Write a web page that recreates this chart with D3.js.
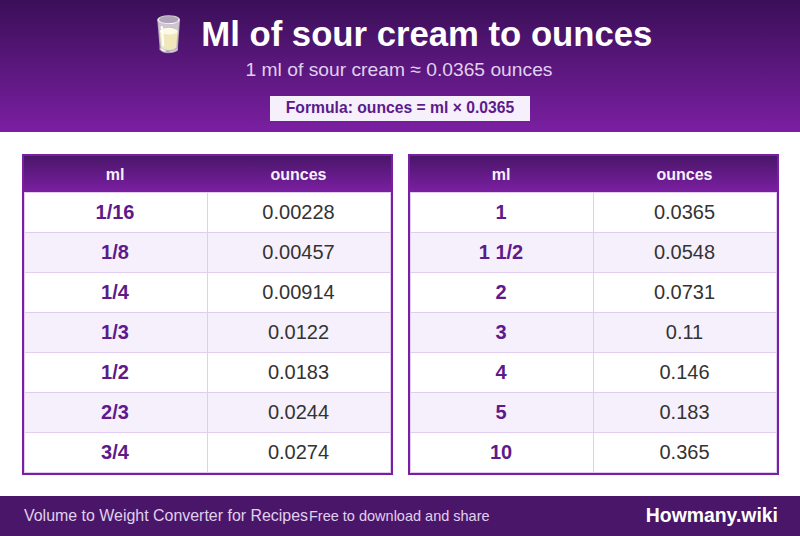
<!DOCTYPE html>
<html>
<head>
<meta charset="utf-8">
<title>Ml of sour cream to ounces</title>
<script src="https://cdn.jsdelivr.net/npm/d3@7"></script>
<style>
  html, body { margin: 0; padding: 0; background: #fff; }
  svg { display: block; font-family: "Liberation Sans", Arial, sans-serif; }
</style>
</head>
<body>
<div id="chart"></div>
<script>
const columns = ["ml", "ounces"];
const leftMl = ["1/16", "1/8", "1/4", "1/3", "1/2", "2/3", "3/4"];
const leftOunces = ["0.00228", "0.00457", "0.00914", "0.0122", "0.0183", "0.0244", "0.0274"];
const rightMl = ["1", "1 1/2", "2", "3", "4", "5", "10"];
const rightOunces = ["0.0365", "0.0548", "0.0731", "0.11", "0.146", "0.183", "0.365"];

const width = 800;
const height = 536;
const lineColor = "#e1cdf0";
const paleText = "#e0d0ee";
const purpleText = "#5e1a8b";

const svg = d3
  .select("#chart")
  .append("svg")
  .attr("width", width)
  .attr("height", height);

const defs = svg.append("defs");

const addGradient = (id, from, to) => {
  const g = defs
    .append("linearGradient")
    .attr("id", id)
    .attr("x1", "0%")
    .attr("y1", "0%")
    .attr("x2", "0%")
    .attr("y2", "100%");
  g.append("stop").attr("offset", "0%").attr("stop-color", from);
  g.append("stop").attr("offset", "100%").attr("stop-color", to);
};
addGradient("headerGradient", "#3a0f58", "#7b1fa2");
addGradient("tableGradient", "#4a1669", "#7b1fa2");

// Top banner
svg.append("rect").attr("width", width).attr("height", 132).attr("fill", "url(#headerGradient)");

const title = svg
  .append("text")
  .attr("x", 399.5)
  .attr("y", 46)
  .attr("text-anchor", "middle")
  .attr("font-size", 34.7)
  .attr("font-weight", "bold")
  .attr("fill", "#fff");
title.append("tspan").text("🥛");
title.append("tspan").attr("dx", 2).text(" Ml of sour cream to ounces");

svg
  .append("text")
  .attr("x", 399)
  .attr("y", 76)
  .attr("text-anchor", "middle")
  .attr("font-size", 19.25)
  .attr("fill", paleText)
  .text("1 ml of sour cream ≈ 0.0365 ounces");

svg.append("rect").attr("x", 270).attr("y", 96).attr("width", 260).attr("height", 25).attr("fill", "#f5f0fb");

svg
  .append("text")
  .attr("x", 400)
  .attr("y", 113)
  .attr("text-anchor", "middle")
  .attr("font-size", 15.7)
  .attr("font-weight", "bold")
  .attr("fill", purpleText)
  .text("Formula: ounces = ml × 0.0365");

// One conversion table
const drawTable = (x0, mlValues, ounceValues) => {
  const g = svg.append("g");
  const xScale = d3.scaleBand().domain(columns).range([x0, x0 + 367]);
  const yScale = d3.scaleBand().domain(d3.range(mlValues.length)).range([192, 472]);
  const colMiddle = (d) => xScale(d) + xScale.bandwidth() / 2 - 0.75;

  g.append("rect")
    .attr("x", x0)
    .attr("y", 156)
    .attr("width", 367)
    .attr("height", 36)
    .attr("fill", "url(#tableGradient)");

  g.selectAll(".head")
    .data(columns)
    .enter()
    .append("text")
    .attr("x", colMiddle)
    .attr("y", 180)
    .attr("text-anchor", "middle")
    .attr("font-size", 16)
    .attr("font-weight", "bold")
    .attr("fill", "#f5f0fb")
    .text((d) => d);

  const rows = g
    .selectAll(".row")
    .data(mlValues)
    .enter()
    .append("g")
    .attr("transform", (d, i) => "translate(0," + yScale(i) + ")");

  rows
    .append("rect")
    .attr("x", x0)
    .attr("width", 367)
    .attr("height", yScale.bandwidth())
    .attr("fill", (d, i) => (i % 2 ? "#f5f0fb" : "#fff"));

  rows
    .append("rect")
    .attr("x", x0)
    .attr("width", 367)
    .attr("height", 1)
    .attr("fill", lineColor);

  rows
    .append("rect")
    .attr("x", Math.floor(xScale("ounces")))
    .attr("width", 1)
    .attr("height", yScale.bandwidth())
    .attr("fill", lineColor);

  rows
    .append("text")
    .attr("x", colMiddle("ml"))
    .attr("y", 27)
    .attr("text-anchor", "middle")
    .attr("font-size", 20)
    .attr("font-weight", "bold")
    .attr("fill", purpleText)
    .text((d) => d);

  rows
    .append("text")
    .attr("x", colMiddle("ounces"))
    .attr("y", 27)
    .attr("text-anchor", "middle")
    .attr("font-size", 20)
    .attr("fill", "#333")
    .text((d, i) => ounceValues[i]);

  // light inner edge round the cells
  g.append("rect")
    .attr("x", x0 + 0.5)
    .attr("y", 192.5)
    .attr("width", 366)
    .attr("height", 280)
    .attr("fill", "none")
    .attr("stroke", lineColor);

  g.append("rect")
    .attr("x", x0 - 1)
    .attr("y", 155)
    .attr("width", 369)
    .attr("height", 319)
    .attr("fill", "none")
    .attr("stroke", "#7b1fa2")
    .attr("stroke-width", 2);
};

drawTable(24, leftMl, leftOunces);
drawTable(410, rightMl, rightOunces);

// Footer
svg.append("rect").attr("y", 496).attr("width", width).attr("height", 40).attr("fill", "#4a1669");

svg
  .append("text")
  .attr("x", 24)
  .attr("y", 521)
  .attr("font-size", 15.95)
  .attr("fill", paleText)
  .text("Volume to Weight Converter for Recipes");

svg
  .append("text")
  .attr("x", 309)
  .attr("y", 521)
  .attr("font-size", 14.5)
  .attr("fill", paleText)
  .text("Free to download and share");

svg
  .append("text")
  .attr("x", 778)
  .attr("y", 522)
  .attr("text-anchor", "end")
  .attr("font-size", 19.4)
  .attr("font-weight", "bold")
  .attr("fill", "#fff")
  .text("Howmany.wiki");
</script>
</body>
</html>
